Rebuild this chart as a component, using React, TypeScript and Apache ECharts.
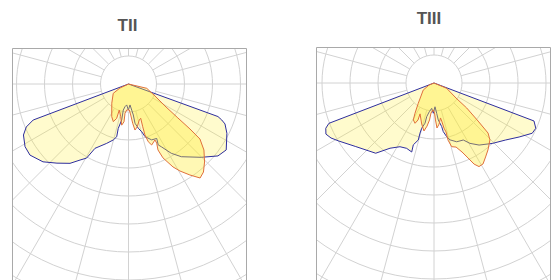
import React, { useEffect, useRef } from "react";
import * as echarts from "echarts";

// Panel titles
const TITLES = ["TII", "TIII"];

// Luminous intensity curves.
// Each pair: [angle in degrees from nadir (negative = left, positive = right), intensity]
const tiiBlue: [number, number][] = [
  [-69.3, 0], [-69.3, 364], [-67.2, 396], [-64.1, 417], [-58.8, 432], [-54.2, 434],
  [-47.7, 413], [-42.1, 381], [-36.4, 352], [-32.5, 322], [-29.5, 304], [-27.5, 259],
  [-20.2, 226], [-15.2, 207], [-12.6, 193], [-13, 163], [-10.7, 131], [-11.3, 95],
  [-8.8, 82], [-4.9, 75], [-0.4, 93], [4.1, 75], [7, 94], [8.8, 112], [9.4, 142],
  [12.5, 162], [15.5, 177], [17.4, 197], [22.5, 216], [27.4, 219], [26, 242],
  [27.6, 253], [31.7, 291], [36, 321], [44.8, 369], [51.2, 410], [56, 421],
  [63.4, 393], [67.5, 373], [68.9, 357], [70, 340], [70, 0],
];

const tiiOrange: [number, number][] = [
  [76.7, 0], [76.7, 67], [65.6, 104], [58.9, 152], [55.5, 214], [53.8, 272],
  [52.4, 322], [48.8, 358], [44.3, 389], [40.4, 413], [37.3, 422], [34, 392],
  [30.6, 361], [28.2, 336], [25, 291], [24.1, 258], [25.5, 234], [25.3, 221],
  [20.8, 233], [18.9, 218], [17.9, 191], [18.4, 161], [19.6, 130], [16.7, 134],
  [11.6, 156], [8, 166], [6.1, 141], [4.1, 111], [1.8, 93], [-4, 93], [-6.8, 105],
  [-6.8, 136], [-9.4, 149], [-13.4, 120], [-19.5, 99], [-19, 130], [-22, 145],
  [-27.2, 131], [-41, 91], [-58.5, 64], [-64.8, 34], [-70, 0],
];

const tiiiBlue: [number, number][] = [
  [-69, 0], [-69, 402], [-67.3, 419], [-64.7, 427], [-61.9, 417], [-58.6, 398],
  [-50.9, 360], [-39.7, 326], [-34, 281], [-28.1, 258], [-22.7, 253], [-17.9, 259],
  [-18.5, 233], [-15.4, 211], [-15.6, 186], [-15.2, 168], [-12.6, 147], [-12.2, 123],
  [-9.3, 104], [-5.2, 91], [-1.3, 108], [2.4, 85], [5.1, 109], [6.6, 133], [10, 158],
  [10.8, 177], [13.3, 197], [15.7, 211], [21.1, 225], [27.2, 229], [30.8, 251],
  [36, 274], [44, 300], [51.5, 327], [57.6, 360], [62.9, 394], [66, 398],
  [69.2, 382], [69.7, 0],
];

const tiiiOrange: [number, number][] = [
  [68, 0], [67.3, 49], [55.7, 95], [52.6, 147], [49.2, 208], [47.2, 263], [44.5, 285],
  [38.9, 307], [34.9, 322], [31.2, 338], [28.3, 339], [26.3, 323], [24.4, 294],
  [22.1, 266], [19, 242], [15.5, 236], [13.8, 210], [13.8, 180], [12.5, 165],
  [11.6, 142], [10.5, 127], [7, 148], [3.8, 161], [2.3, 132], [1, 107], [-2.1, 96],
  [-5.7, 108], [-6.9, 133], [-9.2, 156], [-11.8, 175], [-16.7, 153], [-24.3, 121],
  [-23.4, 144], [-25.2, 159], [-29.2, 151], [-32.1, 128], [-37.7, 92], [-56.8, 46],
  [-68, 19], [-68, 0],
];

const GRID_COLOR = "#d2d2d2";
const BLUE = "#2e2e9e";
const ORANGE = "#e0703c";
const FILL_BLUE = "rgba(255,236,40,0.33)";
const FILL_ORANGE = "rgba(255,236,40,0.5)";

function panelOption(
  w: number,
  h: number,
  cx: number,
  cy: number,
  blue: [number, number][],
  orange: [number, number][]
) {
  return {
    animation: false,
    polar: [
      { center: [cx, cy], radius: [28, 252] },
      { center: [cx, cy], radius: [0, 252] },
    ],
    angleAxis: [
      {
        polarIndex: 0,
        type: "value",
        min: 0,
        max: 360,
        interval: 15,
        startAngle: 90,
        axisLine: { show: false },
        axisTick: { show: false },
        axisLabel: { show: false },
        splitLine: { show: true, lineStyle: { color: GRID_COLOR, width: 1 } },
      },
      {
        polarIndex: 1,
        type: "value",
        min: -180,
        max: 180,
        startAngle: 90,
        clockwise: false,
        show: false,
      },
    ],
    radiusAxis: [
      {
        polarIndex: 0,
        type: "value",
        min: 0,
        max: 8,
        interval: 1,
        axisLine: { show: false },
        axisTick: { show: false },
        axisLabel: { show: false },
        splitLine: { show: true, lineStyle: { color: GRID_COLOR, width: 1 } },
      },
      { polarIndex: 1, type: "value", min: 0, max: 900, show: false },
    ],
    graphic: [
      {
        type: "rect",
        z: 100,
        shape: { x: 0.5, y: 0.5, width: w - 1, height: h + 20 },
        style: { fill: "none", stroke: "#a9a9a9", lineWidth: 1 },
      },
    ],
    series: [
      {
        type: "line",
        coordinateSystem: "polar",
        polarIndex: 1,
        data: blue.map(([a, v]) => [v, a]),
        symbol: "none",
        smooth: false,
        lineStyle: { color: BLUE, width: 1 },
        areaStyle: { color: FILL_BLUE },
        z: 2,
      },
      {
        type: "line",
        coordinateSystem: "polar",
        polarIndex: 1,
        data: orange.map(([a, v]) => [v, a]),
        symbol: "none",
        smooth: false,
        lineStyle: { color: ORANGE, width: 1 },
        areaStyle: { color: FILL_ORANGE },
        z: 3,
      },
    ],
  };
}

export default function App() {
  const titleRef = useRef<HTMLDivElement>(null);
  const leftRef = useRef<HTMLDivElement>(null);
  const rightRef = useRef<HTMLDivElement>(null);

  useEffect(() => {
    const charts: echarts.ECharts[] = [];
    if (titleRef.current) {
      const t = echarts.init(titleRef.current, null, { renderer: "svg" });
      const font = 'bold 17px "Liberation Sans", Arial, sans-serif';
      t.setOption({
        animation: false,
        graphic: [
          {
            type: "text",
            x: 127.5,
            y: 25,
            style: {
              text: TITLES[0],
              fill: "#555555",
              font,
              textAlign: "center",
              textVerticalAlign: "middle",
            },
          },
          {
            type: "text",
            x: 429,
            y: 18.5,
            style: {
              text: TITLES[1],
              fill: "#555555",
              font,
              textAlign: "center",
              textVerticalAlign: "middle",
            },
          },
        ],
      });
      charts.push(t);
    }
    if (leftRef.current) {
      const c = echarts.init(leftRef.current, null, { renderer: "svg" });
      c.setOption(panelOption(235, 232, 116.5, 36, tiiBlue, tiiOrange));
      charts.push(c);
    }
    if (rightRef.current) {
      const c = echarts.init(rightRef.current, null, { renderer: "svg" });
      c.setOption(panelOption(235, 233, 118, 36, tiiiBlue, tiiiOrange));
      charts.push(c);
    }
    return () => charts.forEach((c) => c.dispose());
  }, []);

  return (
    <div
      style={{
        position: "fixed",
        left: 0,
        top: 0,
        width: 558,
        height: 280,
        background: "#ffffff",
        overflow: "hidden",
      }}
    >
      <div ref={titleRef} style={{ position: "absolute", left: 0, top: 0, width: 558, height: 280 }} />
      <div ref={leftRef} style={{ position: "absolute", left: 12, top: 48, width: 235, height: 232 }} />
      <div ref={rightRef} style={{ position: "absolute", left: 316, top: 47, width: 235, height: 233 }} />
    </div>
  );
}
